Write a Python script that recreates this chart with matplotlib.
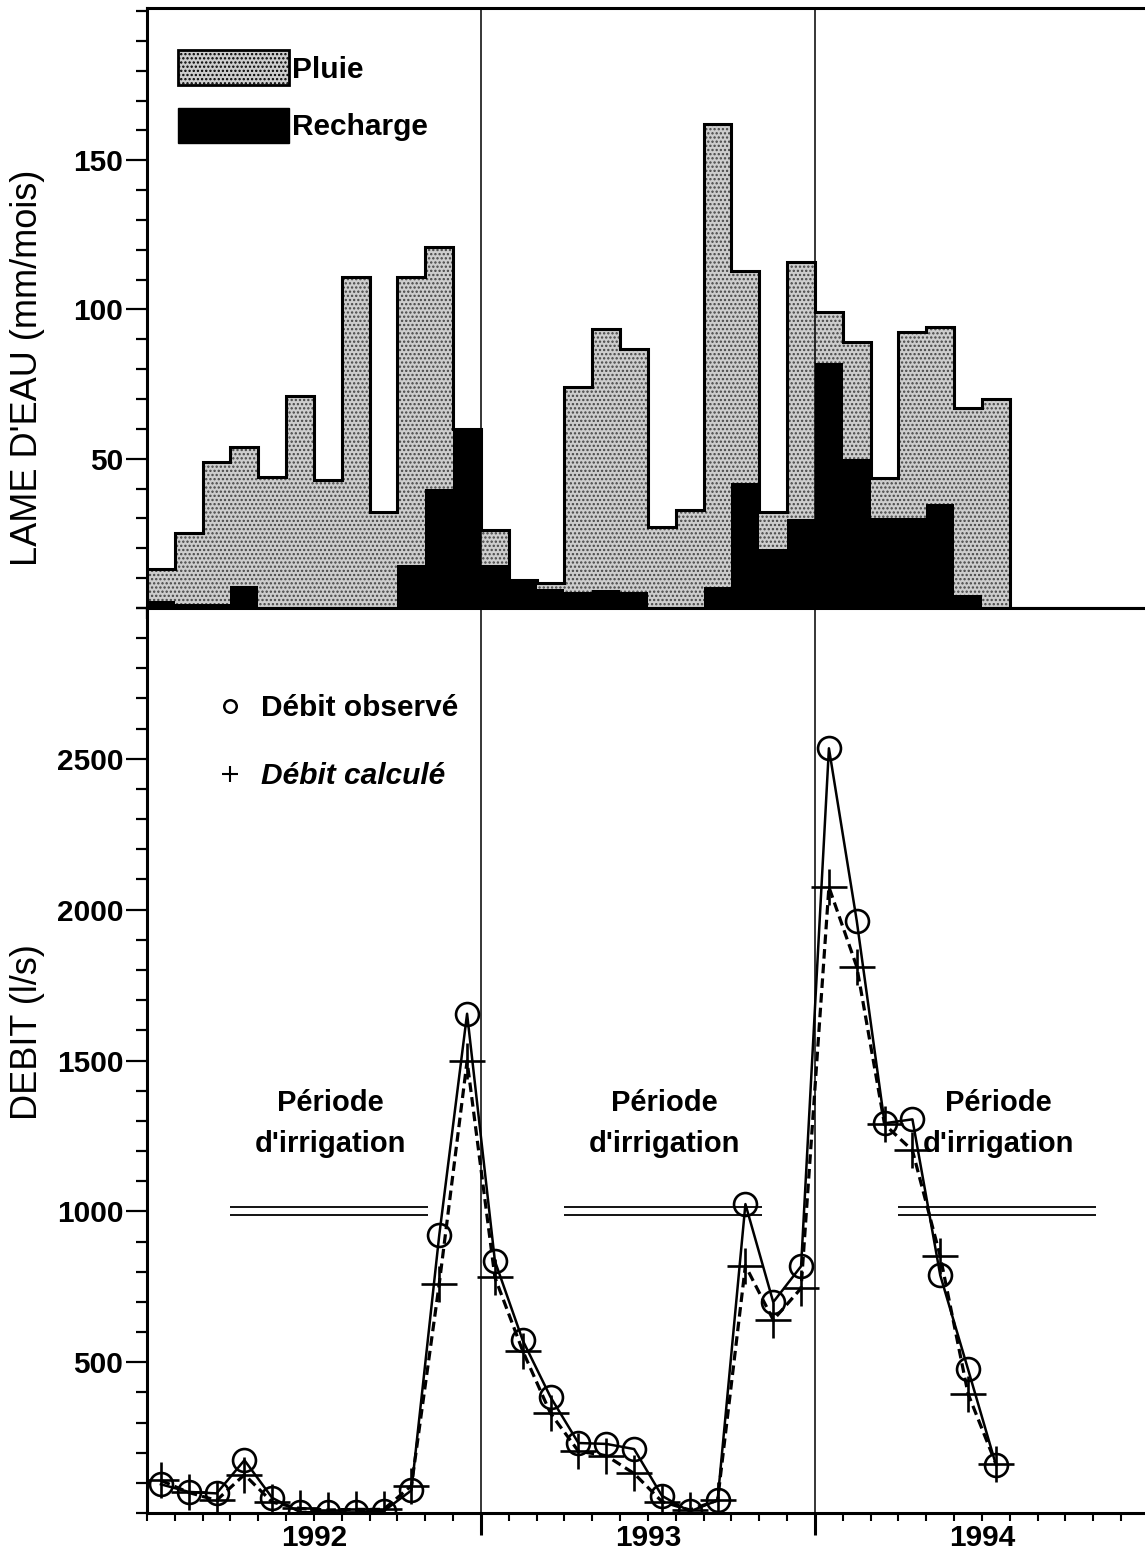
import matplotlib
matplotlib.use('Agg')
import matplotlib.pyplot as plt
import numpy as np
from matplotlib.ticker import MultipleLocator, FixedLocator
from matplotlib.lines import Line2D
from matplotlib.patches import Patch
import matplotlib.transforms as mtransforms

# ---------------- data (monthly, starting first month of 1992 hydrological year) ----
pluie = [13, 25, 49, 54, 44, 71, 43, 111, 32, 111, 121, 60,
         26, 9.4, 8.5, 74, 93.5, 86.6, 27.3, 32.7, 162, 113, 32, 116,
         99, 89, 43.5, 92.4, 94, 67, 70]
recharge = [2.5, 1.5, 1.5, 7.5, 0, 0, 0, 0, 0, 14.5, 40, 60,
            14.5, 9.4, 6.3, 5.5, 6, 5.5, 0, 0, 7, 42, 19.7, 29.8,
            82, 50, 30, 30, 35, 4.4, 0]
debit_observe = [95, 70, 65, 175, 50, 3, 2, 2, 6, 75, 921, 1655,
                 835, 572, 384, 232, 229, 212, 57, 5, 42, 1024, 699, 818,
                 2535, 1963, 1292, 1305, 788, 476, 160]
debit_calcule = [108, 68, 42, 127, 36, 15, 10, 12, 12, 90, 760, 1498,
                 781, 537, 330, 205, 190, 131, 38, 10, 42, 820, 640, 745,
                 2075, 1811, 1288, 1202, 851, 395, 163]
year_labels = ['1992', '1993', '1994']
irrig_start = [3, 15, 27]
irrig_end = [10.1, 22.1, 34.1]

plt.rcParams['font.family'] = ['Liberation Sans', 'DejaVu Sans']
plt.rcParams['hatch.linewidth'] = 1.1

W, H = 1145, 1559
fig = plt.figure(figsize=(W / 100, H / 100), dpi=100)

left = 147 / W
width = 1002 / W
ax1 = fig.add_axes([left, 1 - 608 / H, width, 600 / H])
ax2 = fig.add_axes([left, 1 - 1513 / H, width, 905 / H])

n = len(pluie)
edges = np.arange(n + 1)
xm = np.arange(n) + 0.5
nmonths = 36
TICKFS = 21.5
PLUIE_FACE = '#cdcdcd'

# ---------------- top panel ----------------
ax1.stairs(pluie, edges, fill=True, facecolor=PLUIE_FACE, edgecolor='#454545',
           hatch='....', linewidth=0, zorder=1)
ax1.stairs(pluie, edges, baseline=0, color='black', linewidth=2.2, zorder=2)
ax1.stairs(recharge, edges, fill=True, color='black', linewidth=0, zorder=3)

ax1.set_xlim(0, nmonths)
ax1.set_ylim(0, 201)
ax1.yaxis.set_major_locator(FixedLocator([50, 100, 150]))
ax1.yaxis.set_minor_locator(MultipleLocator(10))
ax1.xaxis.set_major_locator(MultipleLocator(1))
ax1.tick_params(axis='x', which='major', direction='out', length=8, width=1.6,
                labelbottom=False)
ax1.tick_params(axis='y', which='major', direction='out', length=15, width=1.6,
                labelsize=TICKFS, pad=2)
ax1.tick_params(axis='y', which='minor', direction='out', length=8, width=1.6)
for lab in ax1.get_yticklabels():
    lab.set_fontweight('bold')
for s in ['left', 'bottom', 'top']:
    ax1.spines[s].set_linewidth(2.2)
ax1.spines['right'].set_visible(False)
ax1.set_ylabel("LAME D'EAU (mm/mois)", fontsize=26)
ax1.yaxis.set_label_coords(-0.102, 0.40)
for xv in [12, 24]:
    ax1.axvline(xv, color='black', linewidth=1.1, zorder=4)

leg1 = ax1.legend(handles=[Patch(facecolor=PLUIE_FACE, edgecolor='black', hatch='....', linewidth=2),
                           Patch(facecolor='black', edgecolor='black')],
                  labels=['Pluie', 'Recharge'], loc='upper left',
                  bbox_to_anchor=(0.031, 0.93), frameon=False, borderpad=0,
                  borderaxespad=0, handlelength=3.7, handleheight=1.45,
                  handletextpad=0.1, labelspacing=0.75,
                  prop={'weight': 'bold', 'size': 21.5})

# ---------------- bottom panel ----------------
ax2.plot(xm, debit_observe, '-', color='black', linewidth=1.8, marker='o',
         markersize=16.5, markerfacecolor='none', markeredgewidth=1.9, zorder=5)
ax2.plot(xm, debit_calcule, '--', color='black', linewidth=2.3, dashes=(3, 1.6),
         marker='+', markersize=26, markeredgewidth=1.9, zorder=5)

ax2.set_xlim(0, nmonths)
ax2.set_ylim(0, 3000)
ax2.yaxis.set_major_locator(FixedLocator([500, 1000, 1500, 2000, 2500]))
ax2.yaxis.set_minor_locator(MultipleLocator(100))
ax2.xaxis.set_major_locator(FixedLocator([12, 24, 36]))
ax2.xaxis.set_minor_locator(MultipleLocator(1))
ax2.tick_params(axis='x', which='major', direction='out', length=16, width=2.2,
                labelbottom=False)
ax2.tick_params(axis='x', which='minor', direction='out', length=6, width=1.5)
ax2.tick_params(axis='y', which='major', direction='out', length=15, width=1.6,
                labelsize=TICKFS, pad=2)
ax2.tick_params(axis='y', which='minor', direction='out', length=8, width=1.6)
for lab in ax2.get_yticklabels():
    lab.set_fontweight('bold')
for s in ['left', 'bottom', 'top']:
    ax2.spines[s].set_linewidth(2.2)
ax2.spines['right'].set_visible(False)
ax2.set_ylabel("DEBIT (l/s)", fontsize=26)
ax2.yaxis.set_label_coords(-0.102, 0.531)
for xv in [12, 24]:
    ax2.axvline(xv, color='black', linewidth=1.1, zorder=4)

trans = mtransforms.blended_transform_factory(ax2.transData, ax2.transAxes)
for i, lab in enumerate(year_labels):
    ax2.text(6 + 12 * i, -0.028, lab, transform=trans, ha='center', va='center',
             fontsize=TICKFS, fontweight='bold')

for i in range(len(irrig_start)):
    ax2.hlines([1015, 988], irrig_start[i], irrig_end[i], color='black', linewidth=1.3)
    ax2.text(6.6 + 12 * i, 1290, "Période\nd'irrigation", ha='center', va='center',
             fontsize=21, fontweight='bold', linespacing=1.6)

leg2 = ax2.legend(handles=[Line2D([], [], linestyle='none', marker='o', markersize=9,
                                  markerfacecolor='none', markeredgecolor='black',
                                  markeredgewidth=1.8),
                           Line2D([], [], linestyle='none', marker='+', markersize=12,
                                  markeredgecolor='black', markeredgewidth=1.5)],
                  labels=['Débit observé', 'Débit calculé'], loc='upper left',
                  bbox_to_anchor=(0.068, 0.905), frameon=False, borderpad=0,
                  borderaxespad=0, handlelength=1.0, handletextpad=0.55,
                  labelspacing=1.35, prop={'weight': 'bold', 'size': 21.5})
leg2.get_texts()[1].set_fontstyle('italic')

fig.savefig('out.png', dpi=100)
